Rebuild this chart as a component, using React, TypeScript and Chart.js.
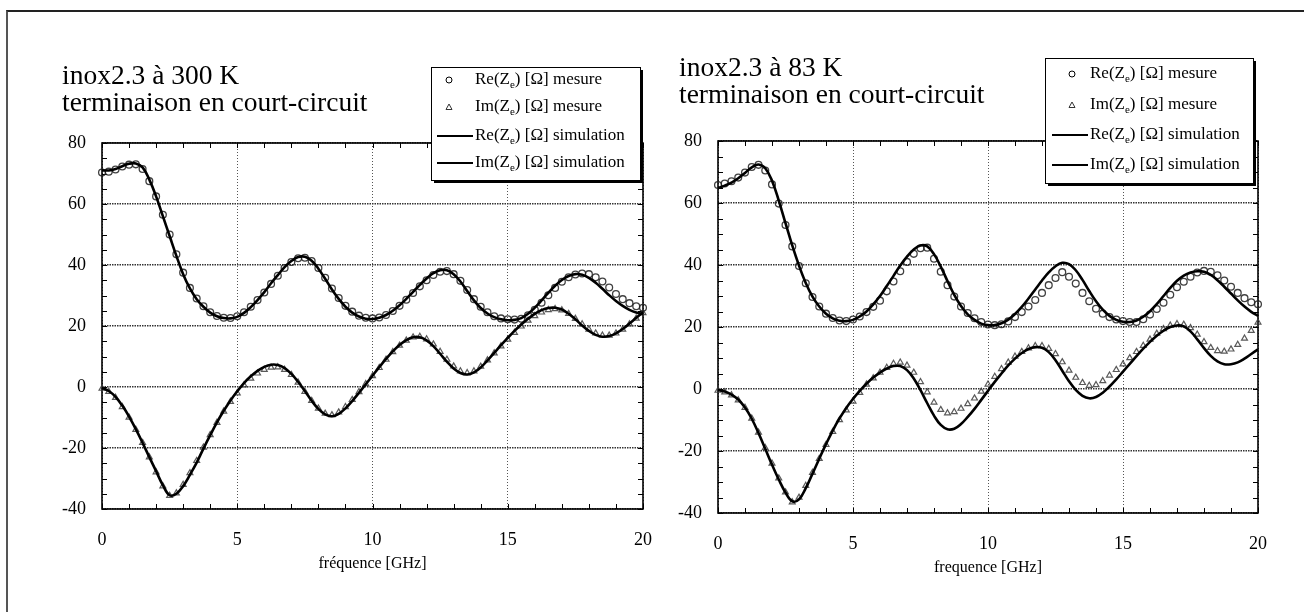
import React, { useEffect, useRef } from "react";
import { Chart, registerables } from "chart.js";

Chart.register(...registerables);

// ---------------- DATA ----------------
const FREQ_GHZ = [
  0, 0.25, 0.5, 0.75, 1, 1.25, 1.5, 1.75, 2, 2.25, 2.5, 2.75, 3, 3.25, 3.5, 3.75,
  4, 4.25, 4.5, 4.75, 5, 5.25, 5.5, 5.75, 6, 6.25, 6.5, 6.75, 7, 7.25, 7.5, 7.75,
  8, 8.25, 8.5, 8.75, 9, 9.25, 9.5, 9.75, 10, 10.25, 10.5, 10.75, 11, 11.25, 11.5, 11.75,
  12, 12.25, 12.5, 12.75, 13, 13.25, 13.5, 13.75, 14, 14.25, 14.5, 14.75, 15, 15.25, 15.5, 15.75,
  16, 16.25, 16.5, 16.75, 17, 17.25, 17.5, 17.75, 18, 18.25, 18.5, 18.75, 19, 19.25, 19.5, 19.75,
  20,
];

// 300 K
const RE_MEAS_300K = [
  70.3, 70.6, 71.3, 72.3, 72.9, 73.0, 71.5, 67.5, 62.5, 56.5, 50.0, 43.5, 37.5, 32.5, 29.0, 26.5,
  24.5, 23.3, 22.7, 22.6, 23.2, 24.5, 26.3, 28.5, 31.0, 33.8, 36.5, 39.0, 41.0, 42.2, 42.4, 41.3,
  39.0, 35.8, 32.3, 29.2, 26.6, 24.7, 23.4, 22.7, 22.5, 22.8, 23.6, 24.9, 26.6, 28.6, 30.8, 33.0,
  35.0, 36.7, 37.8, 38.0, 37.0, 34.8, 31.8, 28.8, 26.3, 24.5, 23.2, 22.5, 22.2, 22.1, 22.4, 23.5,
  25.3, 27.6, 30.1, 32.5, 34.5, 36.0, 36.9, 37.2, 37.0, 36.0, 34.6, 32.6, 30.5, 28.8, 27.5, 26.5,
  26.0,
];
const IM_MEAS_300K = [
  -0.5, -1.5, -3.5, -6.5, -10, -14, -18.3, -23, -27.9, -32.5, -35.6, -34.8, -32, -28.2, -24.2, -19.8,
  -15.7, -11.7, -8, -4.8, -2, 0.6, 2.8, 4.5, 5.7, 6.4, 6.5, 5.7, 4, 1.5, -1.5, -4.5,
  -7, -8.7, -9.2, -8.3, -6.5, -4.2, -1.6, 1, 3.6, 6.3, 9, 11.5, 13.6, 15.3, 16.3, 16.5,
  15.7, 14, 11.6, 9, 6.8, 5.2, 4.6, 5.2, 6.7, 8.8, 11.1, 13.4, 15.6, 17.8, 19.9, 21.8,
  23.3, 24.5, 25.3, 25.6, 25.2, 24, 22.4, 20.6, 18.9, 17.6, 16.9, 16.9, 17.6, 18.9, 20.6, 22.5,
  24.3,
];
const RE_SIM_300K = [
  71, 71, 71.5, 72.4, 73.2, 73.3, 72, 68, 62.5, 56, 49.5, 43, 37, 32.3, 28.8, 26.3,
  24.4, 23.2, 22.6, 22.5, 23, 24.3, 26.2, 28.5, 31.1, 34, 36.7, 39.3, 41.3, 42.6, 42.7, 41.4,
  38.8, 35.5, 32, 28.9, 26.3, 24.4, 23.1, 22.4, 22.3, 22.7, 23.6, 25, 26.8, 28.9, 31.2, 33.5,
  35.6, 37.3, 38.3, 38.3, 37, 34.6, 31.5, 28.4, 25.9, 24.1, 22.9, 22.2, 21.9, 22, 22.6, 24,
  26, 28.4, 30.9, 33.2, 35.1, 36.4, 37, 36.8, 35.8, 34.2, 32.2, 30.1, 28.2, 26.6, 25.3, 24.4,
  23.9,
];
const IM_SIM_300K = [
  -0.3, -1.3, -3.2, -6.1, -9.7, -13.8, -18.3, -23, -27.6, -32.2, -35.5, -35, -32.5, -28.8, -24.8, -20.2,
  -15.8, -11.6, -7.8, -4.4, -1.4, 1.3, 3.5, 5.3, 6.6, 7.3, 7.2, 6.2, 4.3, 1.7, -1.3, -4.5,
  -7.2, -9, -9.6, -8.8, -7, -4.6, -1.9, 0.9, 3.7, 6.5, 9.2, 11.7, 13.8, 15.4, 16.3, 16.3,
  15.3, 13.4, 10.9, 8.3, 6.1, 4.6, 4.1, 4.8, 6.4, 8.7, 11.2, 13.7, 16.1, 18.4, 20.5, 22.4,
  24, 25.2, 25.9, 26, 25.4, 24, 22.2, 20.2, 18.4, 17.1, 16.5, 16.7, 17.6, 19, 20.8, 22.7,
  24.5,
];

// 83 K
const RE_MEAS_83K = [
  65.8, 66.3, 67, 68.2, 69.8, 71.6, 72.3, 70.5, 66, 59.8, 52.9, 46, 39.7, 34.1, 29.7, 26.6,
  24.3, 22.9, 22.1, 21.9, 22.4, 23.4, 24.8, 26.5, 28.5, 31.5, 34.7, 38, 41, 43.6, 45.4, 45.6,
  42, 37.8, 33.5, 29.8, 26.6, 24.5, 22.8, 21.6, 20.8, 20.6, 20.9, 21.8, 23.2, 24.8, 26.6, 28.7,
  31, 33.5, 35.8, 37.7, 36.2, 34, 31, 28.3, 25.9, 24.3, 23.2, 22.4, 21.9, 21.6, 21.6, 22.5,
  24, 25.8, 27.8, 30.4, 32.8, 34.6, 36.2, 37.6, 38.1, 37.8, 36.7, 35, 33, 31, 29.3, 28,
  27.3,
];
const IM_MEAS_83K = [
  -0.5, -1, -2, -3.6, -6, -9.5, -14, -19, -24, -28.8, -33.3, -36.5, -35, -31.2, -27, -22.5,
  -18, -13.8, -10, -6.8, -4, -1.2, 1.5, 3.5, 5.3, 6.9, 8.2, 8.6, 7.6, 5.3, 2.3, -1,
  -4.3, -6.7, -7.8, -7.4, -6.3, -4.8, -3, -0.8, 1.5, 4, 6.5, 8.6, 10.5, 12, 13.2, 13.9,
  13.9, 13, 11.3, 8.7, 6, 3.7, 2, 1.1, 1.3, 2.6, 4.4, 6.2, 8, 10, 12, 14,
  16, 17.9, 19.4, 20.5, 21, 20.8, 19.7, 17.6, 15.2, 13.3, 12.3, 12.1, 12.8, 14.3, 16.3, 18.8,
  21.5,
];
const RE_SIM_83K = [
  64.8, 65.6, 66.6, 68, 69.7, 71.5, 72.4, 71.2, 67.2, 60.8, 53.5, 46.3, 39.8, 34.2, 29.8, 26.6,
  24.3, 22.8, 22, 21.9, 22.3, 23.4, 25, 27.3, 30, 33.2, 36.5, 39.8, 42.7, 45, 46.3, 46,
  43.5, 39.5, 34.8, 30.4, 26.8, 24.1, 22.3, 21.1, 20.6, 20.6, 21.2, 22.4, 24.2, 26.5, 29.2, 32.1,
  35, 37.6, 39.6, 40.7, 40.3, 38.3, 35.2, 31.6, 28.3, 25.6, 23.6, 22.3, 21.7, 21.6, 22.1, 23.3,
  25.1, 27.4, 30, 32.6, 34.9, 36.6, 37.6, 38, 37.8, 36.8, 35.1, 33, 30.8, 28.6, 26.6, 24.9,
  23.6,
];
const IM_SIM_83K = [
  -0.3, -0.8, -1.8, -3.4, -6, -9.6, -14.2, -19.3, -24.4, -29.2, -33.4, -36.2, -35.6, -32, -27.3, -22.5,
  -17.8, -13.4, -9.5, -6.1, -3.2, -0.6, 1.7, 3.7, 5.3, 6.6, 7.4, 7.4, 6.1, 3.4, -0.4, -4.6,
  -8.6, -11.6, -13, -12.8, -11.3, -9, -6.4, -3.5, -0.6, 2.3, 5, 7.6, 9.8, 11.6, 12.9, 13.5,
  13.3, 11.9, 9.3, 5.9, 2.5, -0.3, -2.2, -3, -2.6, -1.2, 0.8, 3.1, 5.6, 8.1, 10.6, 13,
  15.2, 17.2, 18.8, 20, 20.5, 20.2, 18.6, 16, 13.2, 10.7, 8.9, 8, 8, 8.6, 9.8, 11.3,
  12.8,
];

const SERIES_LABELS = [
  "Re(Ze) [Ω] mesure",
  "Im(Ze) [Ω] mesure",
  "Re(Ze) [Ω] simulation",
  "Im(Ze) [Ω] simulation",
];
const X_MIN = 0, X_MAX = 20, X_STEP = 5, X_MINOR = 1;
const Y_MIN = -40, Y_MAX = 80, Y_STEP = 20, Y_MINOR = 5;

const TITLE_300K = ["inox2.3 à 300 K", "terminaison en court-circuit"];
const TITLE_83K = ["inox2.3 à 83 K", "terminaison en court-circuit"];
const XTITLE_300K = "fréquence [GHz]";
const XTITLE_83K = "frequence [GHz]";

// ---------------- STYLE / LAYOUT ----------------
const SERIF = '"Liberation Serif", "Times New Roman", Times, serif';
const H = 612;

type Legend = {
  x: number; y: number; w: number; h: number;
  rows: number[]; symX: number; lineX0: number; lineX1: number; textX: number;
};
type PanelCfg = {
  left: number; width: number;
  area: { left: number; right: number; top: number; bottom: number };
  xAxisH: number;
  title: string[]; titleX: number; titleBase: number[];
  xTitle: string;
  legend: Legend;
  re: number[]; im: number[]; reSim: number[]; imSim: number[];
};

const pts = (ys: number[]) => FREQ_GHZ.map((x, i) => ({ x, y: ys[i] }));

function drawLegendLabel(ctx: CanvasRenderingContext2D, label: string, x: number, y: number) {
  const idx = label.indexOf("Ze");
  const a = label.slice(0, idx + 1);
  const sub = label.slice(idx + 1, idx + 2);
  const b = label.slice(idx + 2);
  ctx.textAlign = "left";
  ctx.textBaseline = "middle";
  ctx.fillStyle = "#000";
  ctx.font = `17px ${SERIF}`;
  ctx.fillText(a, x, y);
  x += ctx.measureText(a).width;
  ctx.font = `11px ${SERIF}`;
  ctx.fillText(sub, x, y + 5);
  x += ctx.measureText(sub).width;
  ctx.font = `17px ${SERIF}`;
  ctx.fillText(b, x, y);
}

function makeDeco(cfg: PanelCfg) {
  return {
    id: "deco",
    beforeDatasetsDraw(chart: any) {
      const { ctx, chartArea: a } = chart;
      const xs = chart.scales.x;
      const ys = chart.scales.y;
      ctx.save();
      ctx.strokeStyle = "#000";
      ctx.lineWidth = 1;
      ctx.beginPath();
      for (let v = X_MIN; v <= X_MAX; v += X_MINOR) {
        const px = Math.round(xs.getPixelForValue(v)) + 0.5;
        ctx.moveTo(px, a.bottom); ctx.lineTo(px, a.bottom - 5);
        ctx.moveTo(px, a.top); ctx.lineTo(px, a.top + 5);
      }
      for (let v = Y_MIN; v <= Y_MAX; v += Y_MINOR) {
        const py = Math.round(ys.getPixelForValue(v)) + 0.5;
        ctx.moveTo(a.left, py); ctx.lineTo(a.left + 5, py);
        ctx.moveTo(a.right, py); ctx.lineTo(a.right - 5, py);
      }
      ctx.stroke();
      ctx.lineWidth = 1.6;
      ctx.strokeRect(a.left, a.top, a.right - a.left, a.bottom - a.top);
      ctx.restore();
    },
    afterDraw(chart: any) {
      const { ctx } = chart;
      ctx.save();
      ctx.fillStyle = "#000";
      ctx.textAlign = "left";
      ctx.textBaseline = "alphabetic";
      ctx.font = `27.5px ${SERIF}`;
      cfg.title.forEach((t, i) => ctx.fillText(t, cfg.titleX, cfg.titleBase[i]));
      const L = cfg.legend;
      ctx.fillStyle = "#000";
      ctx.fillRect(L.x + 3, L.y + 3, L.w, L.h);
      ctx.fillStyle = "#fff";
      ctx.fillRect(L.x, L.y, L.w, L.h);
      ctx.strokeStyle = "#000";
      ctx.lineWidth = 1;
      ctx.strokeRect(L.x + 0.5, L.y + 0.5, L.w, L.h);
      const dsets = chart.data.datasets;
      dsets.forEach((ds: any, i: number) => {
        const y = L.rows[i];
        ctx.strokeStyle = "#000";
        if (ds.showLine) {
          ctx.lineWidth = 2;
          ctx.beginPath();
          ctx.moveTo(L.lineX0, y); ctx.lineTo(L.lineX1, y);
          ctx.stroke();
        } else if (ds.pointStyle === "circle") {
          ctx.lineWidth = 1;
          ctx.beginPath();
          ctx.arc(L.symX, y, 3, 0, Math.PI * 2);
          ctx.stroke();
        } else {
          ctx.lineWidth = 1;
          ctx.strokeStyle = "#333";
          ctx.beginPath();
          ctx.moveTo(L.symX - 3, y + 2.5);
          ctx.lineTo(L.symX + 3, y + 2.5);
          ctx.lineTo(L.symX, y - 3);
          ctx.closePath();
          ctx.stroke();
        }
        drawLegendLabel(ctx, ds.label, L.textX, y);
      });
      ctx.restore();
    },
  };
}

function Panel({ cfg }: { cfg: PanelCfg }) {
  const ref = useRef<HTMLCanvasElement | null>(null);
  useEffect(() => {
    if (!ref.current) return;
    const a = cfg.area;
    const tickFont = { family: SERIF, size: 18 };
    const chart = new Chart(ref.current, {
      type: "scatter",
      data: {
        datasets: [
          {
            label: SERIES_LABELS[0], data: pts(cfg.re), showLine: false,
            pointStyle: "circle", pointRadius: 3.4, borderWidth: 1.3,
            borderColor: "rgba(30,30,30,0.85)", backgroundColor: "rgba(0,0,0,0)",
            order: 2, clip: false,
          },
          {
            label: SERIES_LABELS[1], data: pts(cfg.im), showLine: false,
            pointStyle: "triangle", pointRadius: 3.4, borderWidth: 1.2,
            borderColor: "rgba(60,60,60,0.85)", backgroundColor: "rgba(0,0,0,0)",
            order: 2, clip: false,
          },
          {
            label: SERIES_LABELS[2], data: pts(cfg.reSim), showLine: true,
            pointRadius: 0, borderWidth: 2.6, borderColor: "#000", tension: 0.4,
            order: 1, clip: false,
          },
          {
            label: SERIES_LABELS[3], data: pts(cfg.imSim), showLine: true,
            pointRadius: 0, borderWidth: 2.6, borderColor: "#000", tension: 0.4,
            order: 1, clip: false,
          },
        ] as any,
      },
      options: {
        animation: false,
        responsive: false,
        maintainAspectRatio: false,
        devicePixelRatio: 1,
        events: [],
        layout: {
          autoPadding: false,
          padding: {
            left: 0,
            right: cfg.width - a.right,
            top: a.top,
            bottom: H - a.bottom - cfg.xAxisH,
          },
        },
        plugins: {
          legend: { display: false },
          tooltip: { enabled: false },
          title: { display: false },
        },
        scales: {
          x: {
            type: "linear", min: X_MIN, max: X_MAX,
            ticks: { stepSize: X_STEP, color: "#000", font: tickFont, padding: 20, maxRotation: 0, autoSkip: false },
            grid: { color: "#555", lineWidth: 1, drawTicks: false },
            border: { display: false, dash: [1, 2] },
            title: { display: true, text: cfg.xTitle, color: "#000", font: { family: SERIF, size: 16 }, padding: 0 },
            afterFit: (s: any) => { s.height = cfg.xAxisH; s.paddingLeft = 0; s.paddingRight = 0; },
          },
          y: {
            type: "linear", min: Y_MIN, max: Y_MAX,
            ticks: { stepSize: Y_STEP, color: "#000", font: tickFont, padding: 16 },
            grid: { color: "#333", lineWidth: 1.6, drawTicks: false },
            border: { display: false, dash: [1.5, 1] },
            afterFit: (s: any) => { s.width = a.left; s.paddingTop = 0; s.paddingBottom = 0; },
          },
        },
      } as any,
      plugins: [makeDeco(cfg)],
    });
    return () => chart.destroy();
  }, [cfg]);
  return (
    <canvas
      ref={ref}
      width={cfg.width}
      height={H}
      style={{ position: "absolute", left: cfg.left, top: 0, width: cfg.width, height: H }}
    />
  );
}

const LEFT_CFG: PanelCfg = {
  left: 0, width: 660,
  area: { left: 102, right: 643, top: 143, bottom: 509 },
  xAxisH: 64,
  title: TITLE_300K, titleX: 62, titleBase: [84, 111],
  xTitle: XTITLE_300K,
  legend: { x: 431, y: 67, w: 209, h: 113, rows: [80, 107, 136, 163], symX: 449, lineX0: 437, lineX1: 473, textX: 475 },
  re: RE_MEAS_300K, im: IM_MEAS_300K, reSim: RE_SIM_300K, imSim: IM_SIM_300K,
};

const RIGHT_CFG: PanelCfg = {
  left: 660, width: 644,
  area: { left: 58, right: 598, top: 141, bottom: 513 },
  xAxisH: 64,
  title: TITLE_83K, titleX: 19, titleBase: [76, 103],
  xTitle: XTITLE_83K,
  legend: { x: 385, y: 58, w: 208, h: 125, rows: [74, 105, 135, 165], symX: 412, lineX0: 392, lineX1: 428, textX: 430 },
  re: RE_MEAS_83K, im: IM_MEAS_83K, reSim: RE_SIM_83K, imSim: IM_SIM_83K,
};

export default function App() {
  return (
    <div style={{ position: "fixed", left: 0, top: 0, width: 1304, height: H, background: "#fff", overflow: "hidden" }}>
      <div
        style={{
          position: "absolute", left: 6, top: 10, width: 1304, height: 700,
          borderLeft: "2px solid #555", borderTop: "2px solid #222",
        }}
      />
      <Panel cfg={LEFT_CFG} />
      <Panel cfg={RIGHT_CFG} />
    </div>
  );
}
